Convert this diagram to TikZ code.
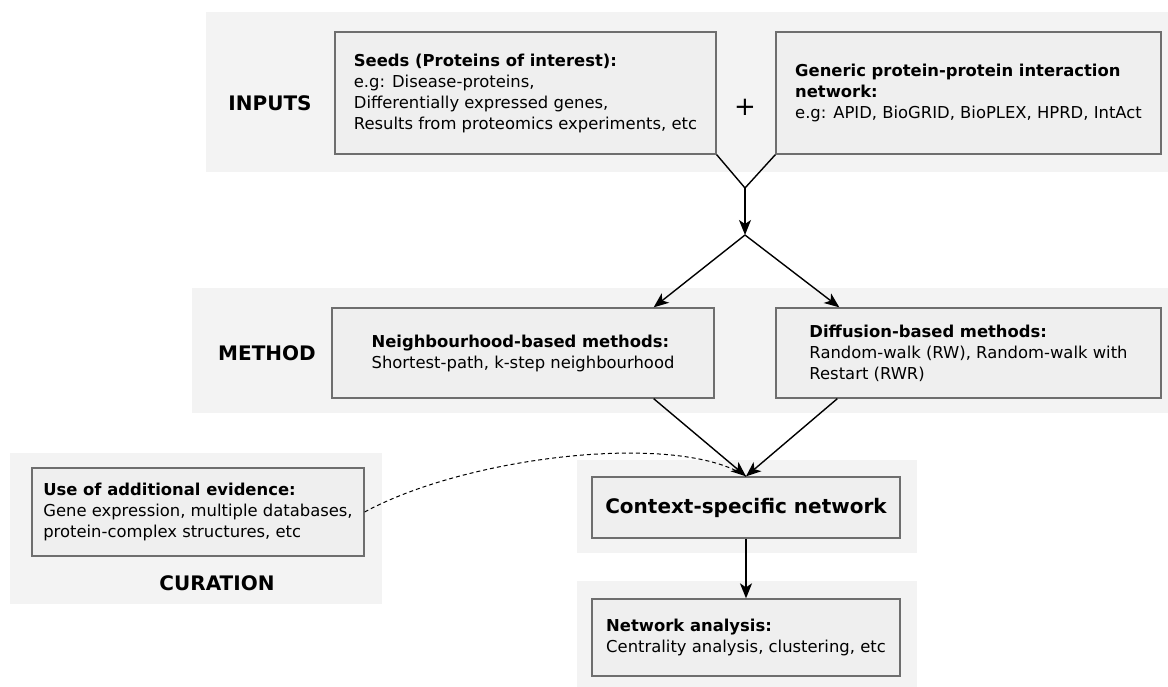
\documentclass[tikz,border=0pt]{standalone}
\usepackage{fontspec}
\setmainfont{DejaVu Sans}
\usetikzlibrary{positioning}
\usetikzlibrary{arrows.meta}
\definecolor{panelgray}{HTML}{F3F3F3}
\definecolor{boxgray}{HTML}{EFEFEF}
\definecolor{edgegray}{HTML}{6E6E6E}

\begin{document}
\begin{tikzpicture}[x=1pt, y=-1pt, >={Stealth[length=15pt, width=12pt, inset=4pt]},
    panel/.style={fill=panelgray},
    block/.style={draw=edgegray, line width=1.3pt, fill=boxgray, align=left, inner sep=0pt, font=\fontsize{16.4}{21}\selectfont},
    tag/.style={font=\fontsize{20}{24}\selectfont\bfseries},
    link/.style={line width=1.4pt}]
\useasboundingbox (0,0) rectangle (1168,687);
\fill[panel] (206,12) rectangle (1168,172);
\fill[panel] (192,288) rectangle (1168,413);
\fill[panel] (10,453) rectangle (382,604);
\fill[panel] (577,460) rectangle (917,553);
\fill[panel] (577,581) rectangle (917,687);

\node[tag] (inputs) at (270,103) {INPUTS};
\node[tag] (method) at (267,353) {METHOD};
\node[tag] (curation) at (217,583) {CURATION};

\node[block, minimum width=381, minimum height=122] (seeds) at (525.5,93)
    {\textbf{Seeds (Proteins of interest):}\\e.g: Disease-proteins,\\Differentially expressed genes,\\Results from proteomics experiments, etc};
\node[block, minimum width=385, minimum height=122] (ppi) at (968.5,93)
    {\textbf{Generic protein-protein interaction}\\\textbf{network:}\\e.g: APID, BioGRID, BioPLEX, HPRD, IntAct};
\node[font=\fontsize{26}{26}\selectfont] (plus) at (745,107) {+};

\node[block, minimum width=382, minimum height=90] (neigh) at (523,353)
    {\textbf{Neighbourhood-based methods:}\\Shortest-path, k-step neighbourhood};
\node[block, minimum width=385, minimum height=90] (diff) at (968.5,353)
    {\textbf{Diffusion-based methods:}\\Random-walk (RW), Random-walk with\\Restart (RWR)};

\node[block, minimum width=332, minimum height=88] (evidence) at (198,512)
    {\textbf{Use of additional evidence:}\\Gene expression, multiple databases,\\protein-complex structures, etc};

\node[block, minimum width=308, minimum height=61, font=\fontsize{20}{24}\selectfont\bfseries] (context) at (746,507.5)
    {Context-specific network};
\node[block, minimum width=308, minimum height=77] (analysis) at (746,637.5)
    {\textbf{Network analysis:}\\Centrality analysis, clustering, etc};

\coordinate (join) at (745,188);
\coordinate (split) at (745,235);
\draw[link] (seeds.south east) -- (join) -- (ppi.south west);
\draw[->, link] (join) -- (split);
\draw[->, link] (split) -- ([xshift=-61pt]neigh.north east);
\draw[->, link] (split) -- ([xshift=64pt]diff.north west);
\draw[->, link] ([xshift=-61pt]neigh.south east) -- (context.north);
\draw[->, link] ([xshift=62pt]diff.south west) -- (context.north);
\draw[->, link] (context.south) -- (analysis.north);
\draw[line width=1pt, dash pattern=on 4pt off 3pt] (evidence.east) .. controls (470,455) and (680,432) .. (context.north);
\end{tikzpicture}
\end{document}
